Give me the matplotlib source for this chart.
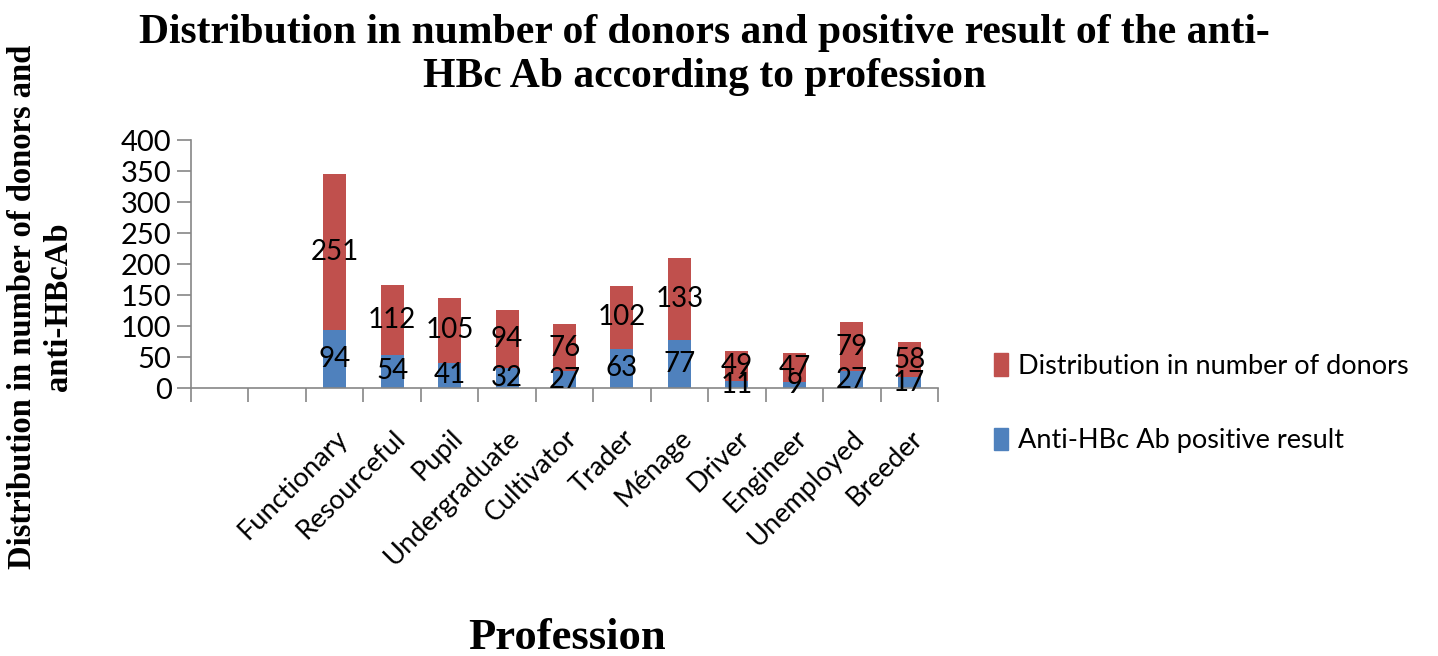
import numpy as np
import matplotlib.pyplot as plt
from matplotlib.patches import Patch

# Data
professions = ['Functionary', 'Resourceful', 'Pupil', 'Undergraduate', 'Cultivator',
               'Trader', 'Ménage', 'Driver', 'Engineer', 'Unemployed', 'Breeder']
positive = [94, 54, 41, 32, 27, 63, 77, 11, 9, 27, 17]
donors = [251, 112, 105, 94, 76, 102, 133, 49, 47, 79, 58]

RED = '#C0504D'
BLUE = '#4F81BD'
AXIS = '#868686'
SANS = ['Lato', 'DejaVu Sans']
SERIF = ['Liberation Serif', 'DejaVu Serif']

fig = plt.figure(figsize=(14.38, 6.56), dpi=100)
ax = fig.add_axes([0.1328, 0.4085, 0.5195, 0.378])

# two empty category slots precede the data, as in the original sheet
n_empty = 2
x = np.arange(len(professions)) + n_empty
width = 0.4

b1 = ax.bar(x, positive, width, color=BLUE, label='Anti-HBc Ab positive result')
b2 = ax.bar(x, donors, width, bottom=positive, color=RED,
            label='Distribution in number of donors')

ax.bar_label(b1, labels=[str(v) for v in positive], label_type='center',
             fontsize=20, family=SANS, color='black')
ax.bar_label(b2, labels=[str(v) for v in donors], label_type='center',
             fontsize=20, family=SANS, color='black')

ax.set_xlim(-0.5, len(professions) + n_empty - 0.5)
ax.set_ylim(0, 400)
ax.set_yticks(np.arange(0, 401, 50))

ax.set_xticks(x)
ax.set_xticklabels(professions, rotation=45, ha='right', rotation_mode='anchor',
                   fontsize=19.5, family=SANS)
ax.set_xticks(np.arange(-0.5, len(professions) + n_empty, 1), minor=True)
ax.tick_params(axis='x', which='major', length=0, pad=27)
ax.tick_params(axis='x', which='minor', length=10, color=AXIS, width=1.2)
ax.tick_params(axis='y', length=10, color=AXIS, width=1.2, labelsize=21, pad=4)
for lab in ax.get_yticklabels():
    lab.set_family(SANS)

for side in ['top', 'right']:
    ax.spines[side].set_visible(False)
for side in ['left', 'bottom']:
    ax.spines[side].set_color(AXIS)
    ax.spines[side].set_linewidth(1.2)

fig.text(0.49, 0.978, 'Distribution in number of donors and positive result of the anti-\nHBc Ab according to profession',
         ha='center', va='top', fontsize=30, fontweight='bold', family=SERIF, linespacing=1.2)

fig.text(0.028, 0.532, 'Distribution in number of donors and\nanti-HBcAb',
         ha='center', va='center', rotation=90, fontsize=23.5, fontweight='bold',
         family=SERIF, linespacing=1.2)

fig.text(0.394, 0.028, 'Profession', ha='center', va='center', fontsize=32,
         fontweight='bold', family=SERIF)

handles = [Patch(color=RED, label='Distribution in number of donors'),
           Patch(color=BLUE, label='Anti-HBc Ab positive result')]
fig.legend(handles=handles, loc='center left', bbox_to_anchor=(0.674, 0.385),
           frameon=False, prop={'family': SANS, 'size': 19.5}, handlelength=0.55,
           handleheight=0.9, handletextpad=0.35, labelspacing=1.8)

fig.savefig('out.png', dpi=100)
